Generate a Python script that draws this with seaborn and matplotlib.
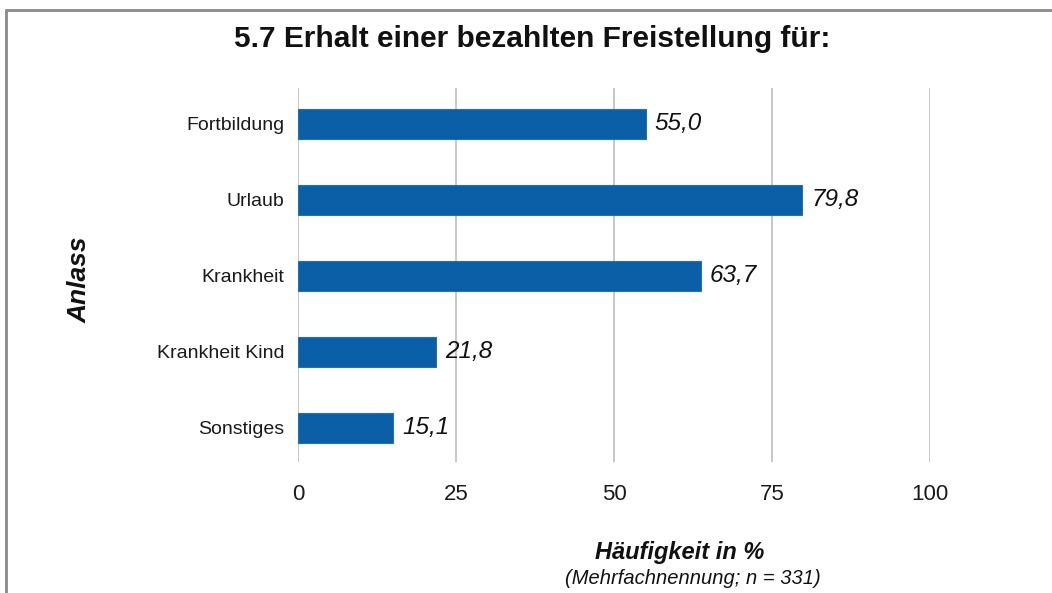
import pandas as pd
import matplotlib.pyplot as plt
import seaborn as sns
from matplotlib.lines import Line2D

# Daten
anlass = ["Fortbildung", "Urlaub", "Krankheit", "Krankheit Kind", "Sonstiges"]
werte = [55.0, 79.8, 63.7, 21.8, 15.1]
ticks = [0, 25, 50, 75, 100]

df = pd.DataFrame({"Anlass": anlass, "Wert": werte})

sns.set_theme(style="whitegrid")
plt.rcParams['font.family'] = ['Liberation Sans', 'DejaVu Sans']

fig = plt.figure(figsize=(10.52, 5.93), dpi=100)
ax = fig.add_axes([0.2833, 0.2209, 0.6008, 0.6307])

sns.barplot(data=df, x="Wert", y="Anlass", color="#0a5fa6", width=0.4,
            saturation=1, edgecolor="#2a6fb0", linewidth=0.8, ax=ax)

ax.set_xlim(0, 100)
ax.set_ylim(4.45, -0.47)
ax.set_xticks(ticks)
ax.set_xticklabels([str(t) for t in ticks], fontsize=16, color="#1a1a1a")
ax.tick_params(axis="y", labelsize=14, colors="#1a1a1a", pad=10, length=0)
ax.tick_params(axis="x", pad=16, length=0)
ax.grid(axis="x", color="#bdbdbd", linewidth=1.2)
ax.grid(axis="y", visible=False)
for s in ax.spines.values():
    s.set_visible(False)
ax.set_axisbelow(True)

# Wertebeschriftung
for i, v in enumerate(werte):
    ax.text(v + 1.4, i, f"{v:.1f}".replace(".", ","), va="center", ha="left",
            fontsize=17.5, style="italic", color="#111111")

ax.set_xlabel("")
ax.set_ylabel("")

fig.text(0.506, 0.935, "5.7 Erhalt einer bezahlten Freistellung für:",
         ha="center", va="center", fontsize=21.5, fontweight="bold",
         color="#111111")
fig.text(0.076, 0.528, "Anlass", rotation=90, ha="center", va="center",
         fontsize=19, fontweight="bold", style="italic", color="#111111")
fig.text(0.646, 0.068, "Häufigkeit in %", ha="center", va="center",
         fontsize=17, fontweight="bold", style="italic", color="#111111")
fig.text(0.659, 0.025, "(Mehrfachnennung; n = 331)", ha="center", va="center",
         fontsize=14.5, style="italic", color="#111111")

# Rahmen
fig.add_artist(Line2D([5.5/1052, 1.0], [1 - 10/593, 1 - 10/593],
                      transform=fig.transFigure, color="#8a8a8a", linewidth=2))
fig.add_artist(Line2D([5.5/1052, 5.5/1052], [1 - 10/593, 0],
                      transform=fig.transFigure, color="#8a8a8a", linewidth=2))

fig.savefig("out.png", dpi=100, facecolor="white")
